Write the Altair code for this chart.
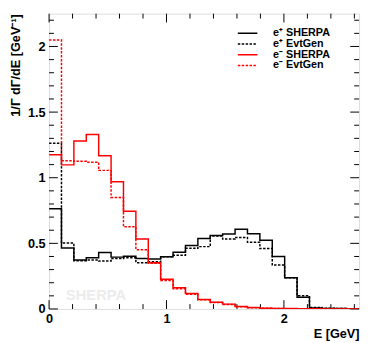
import altair as alt
import pandas as pd

# ---- data ----
n_bins = 25
x_max = 2.64
series = ["e⁺ SHERPA", "e⁺ EvtGen", "e⁻ SHERPA", "e⁻ EvtGen"]
ep_sherpa = [0.763, 0.465, 0.373, 0.39, 0.43, 0.395, 0.402, 0.385, 0.38, 0.398,
             0.432, 0.483, 0.537, 0.56, 0.571, 0.607, 0.574, 0.524, 0.40, 0.238,
             0.09, 0.008, 0.004, 0.003, 0.002]
ep_evtgen = [1.262, 0.502, 0.368, 0.373, 0.365, 0.385, 0.39, 0.353, 0.36, 0.398,
             0.41, 0.462, 0.475, 0.555, 0.533, 0.545, 0.508, 0.46, 0.335, 0.238,
             0.10, 0.012, 0.005, 0.003, 0.002]
em_sherpa = [1.175, 1.098, 1.279, 1.329, 1.168, 0.969, 0.745, 0.534, 0.353, 0.226,
             0.162, 0.118, 0.073, 0.052, 0.037, 0.019, 0.011, 0.006, 0.004, 0.003,
             0.002, 0.001, 0.0, 0.0, 0.0]
em_evtgen = [2.049, 1.13, 1.125, 1.118, 1.056, 0.85, 0.626, 0.452, 0.348, 0.216,
             0.154, 0.112, 0.07, 0.05, 0.034, 0.017, 0.01, 0.005, 0.003, 0.002,
             0.001, 0.001, 0.0, 0.0, 0.0]
values = [ep_sherpa, ep_evtgen, em_sherpa, em_evtgen]
colors = ["#000000", "#000000", "#ff0000", "#ff0000"]
dashes = [[1, 0], [2.5, 1.5], [1, 0], [2.5, 1.5]]

y_max = 2.25
x_major = [0, 1, 2]
x_minor = [0.2, 0.4, 0.6, 0.8, 1.2, 1.4, 1.6, 1.8, 2.2, 2.4, 2.6]
y_major = [0, 0.5, 1, 1.5, 2]
y_minor = [0.1, 0.2, 0.3, 0.4, 0.6, 0.7, 0.8, 0.9, 1.1, 1.2, 1.3, 1.4,
           1.6, 1.7, 1.8, 1.9, 2.1, 2.2]

# ---- build tables ----
w = x_max / n_bins
rows = []
for s, vals in zip(series, values):
    for i, v in enumerate(vals):
        rows.append({"series": s, "E": i * w, "val": v})
    rows.append({"series": s, "E": x_max, "val": vals[-1]})
df = pd.DataFrame(rows)

FONT = "Liberation Sans"
W, H = 317, 302

xscale = alt.Scale(domain=[0, x_max], nice=False, zero=False)
yscale = alt.Scale(domain=[0, y_max], nice=False, zero=False)

leg = dict(orient="none", legendX=192, legendY=15, title=None,
           symbolType="stroke", symbolSize=400, symbolStrokeWidth=1.5,
           clipHeight=10, rowPadding=0, labelFont=FONT, labelFontSize=11,
           labelFontWeight="bold", labelColor="black", labelOffset=15, padding=0)

lines = alt.Chart(df).mark_line(interpolate="step-after", strokeWidth=1.5, clip=True).encode(
    x=alt.X("E:Q", scale=xscale,
            axis=alt.Axis(values=x_major, format="~g", ticks=False, domain=False, grid=False,
                          labelFlush=False,
                          labelFont=FONT, labelFontSize=13, labelFontWeight="bold",
                          labelPadding=4, labelColor="black",
                          title="E [GeV]", titleFont=FONT, titleFontSize=13,
                          titleFontWeight="bold", titleColor="black",
                          titleAnchor="end", titleAlign="right", titleX=W, titleY=29,
                          titleBaseline="alphabetic")),
    y=alt.Y("val:Q", scale=yscale,
            axis=alt.Axis(values=y_major, format="~g", ticks=False, domain=False, grid=False,
                          labelFlush=False,
                          labelFont=FONT, labelFontSize=13, labelFontWeight="bold",
                          labelPadding=4, labelColor="black",
                          title="1/Γ dΓ/dE [GeV⁻¹]", titleFont=FONT, titleFontSize=13,
                          titleFontWeight="bold", titleColor="black",
                          titleAngle=270, titleAlign="right", titleBaseline="middle",
                          titleX=-34, titleY=0)),
    color=alt.Color("series:N", scale=alt.Scale(domain=series, range=colors),
                    legend=alt.Legend(**leg)),
    strokeDash=alt.StrokeDash("series:N", scale=alt.Scale(domain=series, range=dashes),
                              legend=alt.Legend(**leg)),
    order=alt.Order("series:N"),
)

ydf_major = pd.DataFrame({"v": y_major})
ydf_minor = pd.DataFrame({"v": y_minor})
xdf_major = pd.DataFrame({"v": x_major})
xdf_minor = pd.DataFrame({"v": x_minor})

def yticks(d, x0, x1):
    return alt.Chart(d).mark_rule(color="black", strokeWidth=1).encode(
        y=alt.Y("v:Q", scale=yscale), x=alt.value(x0), x2=alt.value(x1))

def xticks(d, y0, y1):
    return alt.Chart(d).mark_rule(color="black", strokeWidth=1).encode(
        x=alt.X("v:Q", scale=xscale), y=alt.value(y0), y2=alt.value(y1))

ticks = [
    yticks(ydf_major, 0, 9), yticks(ydf_minor, 0, 5),
    yticks(ydf_major, W - 9, W), yticks(ydf_minor, W - 5, W),
    xticks(xdf_major, H, H - 9), xticks(xdf_minor, H, H - 5),
    xticks(xdf_major, 0, 9), xticks(xdf_minor, 0, 5),
]

mark = alt.Chart(pd.DataFrame({"t": ["SHERPA"]})).mark_text(
    font=FONT, fontSize=15, fontWeight="bold", color="#ececec", align="center",
    baseline="middle").encode(text="t:N", x=alt.value(48), y=alt.value(288))

chart = alt.layer(mark, *ticks, lines).properties(
    width=W, height=H,
    autosize=alt.AutoSizeParams(type="none"),
    padding={"left": 42, "top": 2, "right": 3, "bottom": 31},
).configure_view(stroke="black", strokeWidth=1.5).configure(background="white")

chart.save("out.html", embed_options={"renderer": "svg", "actions": False})
